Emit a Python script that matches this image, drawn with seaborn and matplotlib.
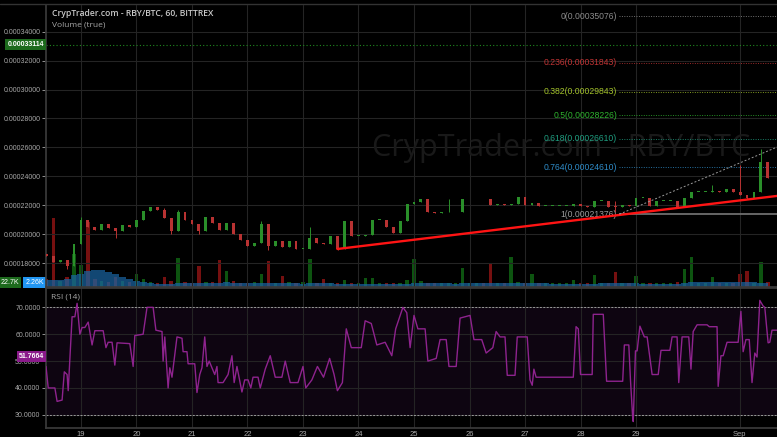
import numpy as np
import pandas as pd
import matplotlib
matplotlib.use("Agg")
import matplotlib.pyplot as plt
import seaborn as sns

# ---------------------------
# DATA  (prices in satoshi = 1e-8 BTC, volume in K)
# ---------------------------
t0 = 18.375          # first 3h candle, day of August
step = 0.125         # 3 hours

close = [18500, 18100, 18200, 17800, 19300, 21000, 20500, 20300, 20700, 20400,
         20200, 20600, 20500, 21000, 21600, 21900, 21700, 21100, 20200, 21500,
         21000, 20700, 20200, 21200, 20800, 20300, 20800, 20000, 19600, 19200,
         19400, 20700, 19200, 19500, 19100, 19500, 18950, 19000, 19700, 19400,
         19300, 19900, 18950, 20900, 19900, 19900, 19950, 21000, 21000, 20500,
         20100, 20900, 22100, 22200, 22400, 21500, 21450, 21500, 21500, 21500,
         22400, 22400, 22450, 22400, 22000, 22100, 22000, 22100, 22550, 22000,
         22150, 21950, 21950, 21950, 21950, 21950, 22050, 21950, 21900, 22300,
         22300, 21900, 21850, 22000, 21950, 22500, 22500, 21950, 22300, 22300,
         22300, 21900, 22500, 22900, 22900, 22900, 22950, 22900, 23100, 22900,
         22700, 22500, 22900, 25000, 23900]
first_open = 18600
wick_hi = {1: 18500, 5: 21200, 9: 20700, 17: 21800, 19: 21700, 31: 20900, 38: 20500,
           43: 20900, 58: 22400, 82: 22300, 96: 23400, 100: 24800, 103: 25900}
wick_lo = {3: 17600, 10: 19700, 18: 20000, 22: 20000, 32: 18900, 42: 18900,
           82: 21550, 101: 22400}

volume = [4.4, 38, 3.3, 5.5, 18, 12, 36, 4.4, 3.3, 2.8,
          5.5, 3.3, 2.8, 7.2, 4.4, 2.8, 2.2, 5.5, 3.3, 16,
          2.8, 2.2, 11.6, 2.8, 2.8, 15, 8.8, 3.3, 2.2, 2.2,
          2.8, 7.2, 14.3, 2.2, 6, 2.8, 2.2, 2.8, 15.4, 2.2,
          4.4, 2.2, 2.2, 3.9, 2.2, 2.2, 5, 5, 2.2, 2.2,
          2.2, 2.2, 3.9, 15.4, 3.3, 2.2, 2.2, 2.2, 2.2, 2.2,
          10.5, 2.2, 2.2, 2.2, 13.2, 2.2, 2.2, 16.5, 2.8, 2.2,
          7.2, 2.2, 2.2, 2.2, 2.2, 2.2, 3.9, 2.2, 2.2, 6.6,
          2.2, 2.2, 8.3, 2.2, 2.2, 6, 2.2, 2.2, 2.2, 2.2,
          2.2, 2.8, 10, 16.5, 2.2, 2.2, 5.5, 2.2, 2.2, 2.2,
          7.2, 8.8, 2.2, 13.8, 2.8]
vol_ma = [3.9, 3.9, 4.0, 4.5, 6.5, 7.2, 9.0, 9.4, 9.4, 8.0,
          7.2, 5.5, 4.4, 3.3, 2.8, 2.2, 1.8, 1.9, 1.9, 2.2,
          2.2, 2.1, 2.3, 2.3, 2.2, 2.4, 2.5, 2.4, 2.2, 2.0,
          2.0, 2.1, 2.3, 2.2, 2.2, 2.1, 2.0, 1.9, 2.1, 2.1,
          2.0, 2.0, 1.9, 1.9, 1.8, 1.8, 1.8, 1.9, 1.9, 1.8,
          1.8, 1.8, 1.9, 2.2, 2.2, 2.1, 2.1, 2.0, 2.0, 1.9,
          2.0, 2.1, 2.0, 2.0, 2.1, 2.2, 2.1, 2.3, 2.3, 2.2,
          2.2, 2.1, 2.0, 1.9, 1.8, 1.8, 1.8, 1.8, 1.9, 1.9,
          2.0, 2.0, 2.1, 2.0, 2.0, 2.0, 1.9, 1.9, 1.8, 1.8,
          1.8, 1.9, 2.3, 2.8, 2.9, 2.9, 3.0, 3.0, 2.9, 2.9,
          2.8, 2.7, 2.5, 2.4, 2.26]

rsi_day = [18.37, 18.41, 18.53, 18.57, 18.66, 18.70, 18.75, 18.77, 18.84, 18.89,
           18.93, 18.98, 19.02, 19.07, 19.13, 19.20, 19.25, 19.40, 19.45, 19.49,
           19.56, 19.61, 19.65, 19.88, 19.94, 19.97, 20.12, 20.19, 20.30, 20.35,
           20.46, 20.48, 20.51, 20.57, 20.60, 20.64, 20.73, 20.82, 20.84, 20.91,
           20.93, 21.05, 21.09, 21.14, 21.18, 21.23, 21.27, 21.31, 21.41, 21.45,
           21.47, 21.56, 21.65, 21.72, 21.76, 21.81, 21.90, 21.95, 22.01, 22.06,
           22.10, 22.19, 22.23, 22.32, 22.41, 22.50, 22.62, 22.68, 22.77, 22.91,
           23.00, 23.05, 23.16, 23.26, 23.37, 23.48, 23.56, 23.62, 23.71, 23.78,
           23.87, 24.05, 24.12, 24.23, 24.33, 24.48, 24.60, 24.67, 24.80, 24.87,
           24.93, 25.00, 25.07, 25.20, 25.25, 25.40, 25.47, 25.58, 25.63, 25.76,
           25.83, 26.01, 26.08, 26.22, 26.30, 26.42, 26.48, 26.55, 26.64, 26.68,
           26.82, 26.86, 27.04, 27.09, 27.13, 27.16, 27.20, 27.87, 27.92, 27.96,
           28.00, 28.21, 28.23, 28.41, 28.47, 28.76, 28.79, 28.87, 28.90, 28.94,
           28.95, 28.99, 29.02, 29.07, 29.13, 29.15, 29.20, 29.29, 29.40, 29.45,
           29.61, 29.65, 29.74, 29.77, 29.83, 29.95, 29.99, 30.03, 30.10, 30.28,
           30.32, 30.46, 30.48, 30.53, 30.57, 30.64, 30.84, 30.89, 30.93, 30.98,
           31.04, 31.09, 31.14, 31.18, 31.23, 31.29, 31.32, 31.38, 31.41, 31.45,
           31.54]
rsi_val = [48, 40, 40, 35, 35.5, 46, 45, 39, 66.5, 66.5,
           71.5, 60, 62.5, 62.5, 64.5, 56, 61.3, 61.3, 55, 57,
           57, 48.5, 56.8, 56.5, 48, 59.5, 60, 70, 70, 61.5,
           61, 50, 59, 40, 47.5, 44, 59, 58.5, 53.5, 53.5,
           49, 49, 38.3, 45, 47.5, 59, 48, 50, 45, 48,
           42, 42, 45, 52, 42, 48, 38.5, 43, 43, 40,
           44, 44, 40, 47, 52, 44, 44, 50, 42, 42,
           48, 40, 43, 48, 44, 51, 45, 39, 42, 62,
           55, 55, 65, 64, 56, 57, 52, 62, 70, 68,
           55, 67, 62, 62, 50, 51, 58, 58, 48, 48,
           66, 67, 58, 58, 53, 55, 61, 59, 59, 44.7,
           44.7, 59, 59, 43, 41, 47, 44, 44, 62.8, 62,
           45, 45, 67.4, 67.4, 42.5, 42.5, 56, 56, 43, 29,
           27.5, 53.8, 53.8, 63, 60, 59, 59, 45, 45, 54,
           54, 59, 59, 42, 59, 59, 47, 61, 63.5, 63.5,
           62.8, 62.8, 40.6, 52, 52, 57, 57, 68.5, 53.5, 58,
           58, 42, 53, 51.5, 72.6, 70.5, 70, 56.8, 57, 61.5,
           61.5]

fib_ratio = ["0", "0.236", "0.382", "0.5", "0.618", "0.764", "1"]
fib_price = [35076, 31843, 29843, 28226, 26610, 24610, 21376]
fib_color = ["#8c8c8c", "#c23434", "#a3c22a", "#2fb52f", "#1f9e80", "#2f8cc8", "#9a9a9a"]
fib_start = 28.70

trend_day = [23.62, 31.54]
trend_price = [18970, 22640]
ext_day = [28.70, 31.54]
ext_price = [21376, 26020]

last_price = 33114
last_rsi = 51.7664
last_vol_ma = "2.26K"

tick_days = [19, 20, 21, 22, 23, 24, 25, 26, 27, 28, 29, 30.87]
tick_labels = ["19", "20", "21", "22", "23", "24", "25", "26", "27", "28", "29", "Sep"]

# ---------------------------
# STYLE
# ---------------------------
sns.set_theme(style="dark", rc={
    "axes.facecolor": "black", "figure.facecolor": "black",
    "axes.edgecolor": "#333333", "grid.color": "#242424", "grid.linewidth": 0.8,
    "axes.grid": True, "text.color": "#c8c8c8",
})
plt.rcParams["font.family"] = ["Liberation Sans", "DejaVu Sans"]

W, H = 777, 437
fig = plt.figure(figsize=(W / 100, H / 100), dpi=100, facecolor="black")
ax = fig.add_axes([46 / W, 1 - 287 / H, 731 / W, 282 / H])
ax_rsi = fig.add_axes([46 / W, 1 - 428 / H, 731 / W, 140 / H], sharex=ax)

# ---------------------------
# CANDLES
# ---------------------------
df = pd.DataFrame({"close": close, "volume": volume, "vol_ma": vol_ma})
df["day"] = t0 + step * np.arange(len(df))
df["open"] = [first_open] + close[:-1]
df["high"] = df[["open", "close"]].max(axis=1)
df["low"] = df[["open", "close"]].min(axis=1)
for i, v in wick_hi.items():
    df.loc[i, "high"] = v
for i, v in wick_lo.items():
    df.loc[i, "low"] = v
up = df["close"] >= df["open"]
cand_col = np.where(up, "#2a8f2a", "#b83232")
vol_col = np.where(up, "#0d5410", "#761010")
body_lo = df[["open", "close"]].min(axis=1)
body_h = (df["close"] - df["open"]).abs().clip(lower=60)

# volume lives on a twin axis, drawn behind the candles
ax_vol = ax.twinx()
ax.set_zorder(ax_vol.get_zorder() + 1)
ax.patch.set_visible(False)
ax_vol.bar(df["day"], df["volume"], width=0.06, color=vol_col, linewidth=0)
ax_vol.fill_between(df["day"], df["vol_ma"], step="mid", color="#1a64a0", alpha=0.72, linewidth=0)
ax_vol.set_ylim(0, 155)
ax_vol.set_yticks([])
ax_vol.grid(False)
for s in ax_vol.spines.values():
    s.set_visible(False)

ax.vlines(df["day"], df["low"], df["high"], colors=cand_col, linewidth=0.7, zorder=3)
ax.bar(df["day"], body_h, bottom=body_lo, width=0.052, color=cand_col, linewidth=0, zorder=3)

# watermark
ax.text(24.24, 25960, "CrypTrader.com - RBY/BTC", fontsize=22, color="#191919",
        family=["Open Sans", "DejaVu Sans"], va="center", ha="left", clip_on=True, zorder=1)

# last price line
ax.axhline(last_price, color="#1f8a1f", ls=(0, (1, 2)), lw=0.8, zorder=2)

# fibonacci levels
for r, p, c in zip(fib_ratio, fib_price, fib_color):
    if r == "1":
        ax.hlines(p, fib_start, 31.54, color="#6e6e6e", lw=1.3, zorder=2)
    else:
        ax.hlines(p, fib_start, 31.54, color=c, lw=0.7, ls=(0, (1, 1.5)), alpha=0.8, zorder=2)
    ax.text(fib_start - 0.04, p, f"{r}({p / 1e8:.8f})", color=c, fontsize=6.2,
            ha="right", va="center", zorder=4)

# trend lines
sns.lineplot(x=trend_day, y=trend_price, ax=ax, color="#ff1414", linewidth=1.7, zorder=5)
sns.lineplot(x=ext_day, y=ext_price, ax=ax, color="#9a9a9a", linewidth=0.7,
             linestyle=(0, (2, 2)), zorder=5)

ax.set_xlim(18.37, 31.54)
ax.set_ylim(16340, 35850)
ax.set_yticks(range(18000, 34001, 2000))
ax.set_yticklabels([f"{v / 1e8:.8f}" for v in range(18000, 34001, 2000)])
ax.set_xticks(tick_days)
ax.tick_params(axis="x", labelbottom=False, length=0)
ax.tick_params(axis="y", colors="#a8a8a8", labelsize=5.0, length=3, width=0.6, pad=1, left=True)
ax.set_xlabel("")
ax.set_ylabel("")
for name, s in ax.spines.items():
    s.set_visible(name in ("left", "bottom"))
    s.set_color("#3a3a3a")

# ---------------------------
# RSI
# ---------------------------
ax_rsi.axhspan(30, 70, color="#0e0511", zorder=0)
sns.lineplot(x=rsi_day, y=rsi_val, ax=ax_rsi, color="#8e238e", linewidth=1.0,
             estimator=None, sort=False, zorder=3)
for lv in (30, 70):
    ax_rsi.axhline(lv, color="#9a9a9a", lw=0.7, ls=(0, (2, 1.5)), zorder=2)
ax_rsi.set_ylim(25.1, 77.2)
ax_rsi.set_yticks([30, 40, 50, 60, 70])
ax_rsi.set_yticklabels([f"{v:.4f}" for v in (30, 40, 50, 60, 70)])
ax_rsi.set_xticks(tick_days)
ax_rsi.set_xticklabels(tick_labels)
ax_rsi.tick_params(axis="y", colors="#a8a8a8", labelsize=5.0, length=3, width=0.6, pad=1, left=True)
ax_rsi.tick_params(axis="x", colors="#a8a8a8", labelsize=5.5, length=0, pad=2)
ax_rsi.set_xlabel("")
ax_rsi.set_ylabel("")
for name, s in ax_rsi.spines.items():
    s.set_visible(name in ("left", "bottom", "top"))
    s.set_color("#3a3a3a")

# ---------------------------
# LABELS
# ---------------------------
fig.text(52 / W, 1 - 14 / H, "CrypTrader.com - RBY/BTC, 60, BITTREX", fontsize=6.2,
         color="#c8c8c8", va="center", family=["Open Sans", "DejaVu Sans"], fontweight="semibold")
fig.text(52 / W, 1 - 25 / H, "Volume (true)", fontsize=6.0, color="#a8a8a8", va="center",
         family=["Open Sans", "DejaVu Sans"])
fig.text(51 / W, 1 - 297 / H, "RSI (14)", fontsize=6.0, color="#a8a8a8", va="center",
         family=["Open Sans", "DejaVu Sans"])

ax.text(-0.003, last_price, f"{last_price / 1e8:.8f}", transform=ax.get_yaxis_transform(),
        ha="right", va="center", fontsize=5.0, color="white", fontweight="bold", zorder=6,
        bbox=dict(boxstyle="square,pad=0.3", fc="#1d6a1d", ec="none"))
ax_rsi.text(-0.003, last_rsi, f"{last_rsi:.4f}", transform=ax_rsi.get_yaxis_transform(),
            ha="right", va="center", fontsize=5.0, color="white", fontweight="bold", zorder=6,
            bbox=dict(boxstyle="square,pad=0.3", fc="#8a1a8a", ec="none"))
ax_vol.text(-0.037, 2.6, "22.7K", transform=ax_vol.get_yaxis_transform(),
            ha="right", va="center", fontsize=5.0, color="white", zorder=6,
            bbox=dict(boxstyle="square,pad=0.3", fc="#1d6a1d", ec="none"))
ax_vol.text(-0.003, 2.6, last_vol_ma, transform=ax_vol.get_yaxis_transform(),
            ha="right", va="center", fontsize=5.0, color="white", zorder=7,
            bbox=dict(boxstyle="square,pad=0.3", fc="#2196f3", ec="none"))

fig.add_artist(plt.Line2D([0, 1], [1 - 4 / H, 1 - 4 / H], transform=fig.transFigure,
                          color="#333333", lw=1))

fig.savefig("out.png", dpi=100, facecolor="black")
